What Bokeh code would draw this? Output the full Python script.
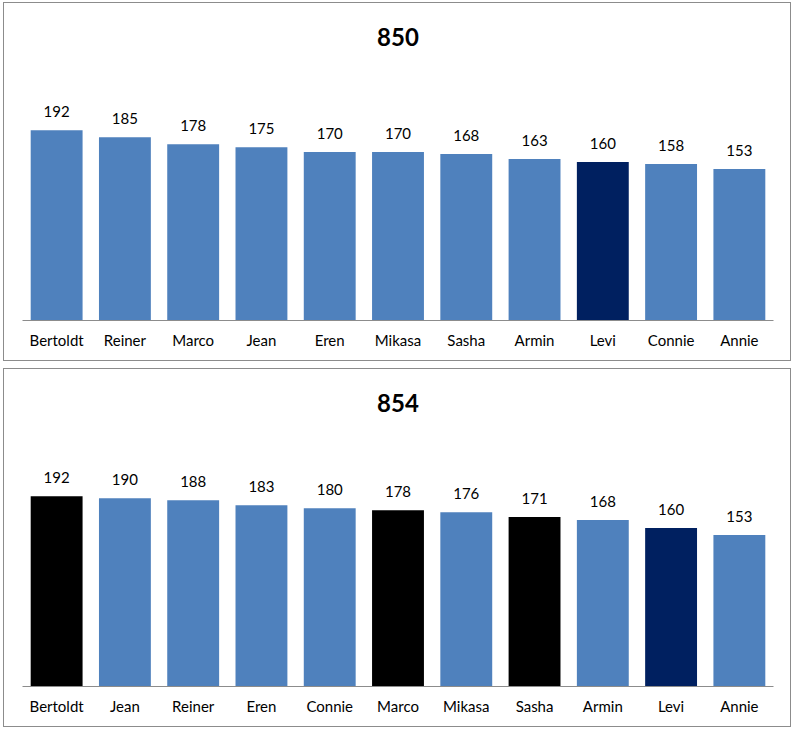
from bokeh.plotting import figure
from bokeh.models import ColumnDataSource
from bokeh.layouts import column
from bokeh.embed import file_html
from bokeh.resources import INLINE
from bokeh.core.properties import value

BLUE = "#4F81BD"
NAVY = "#002060"
BLACK = "#000000"

title_top = "850"
names_top = ["Bertoldt", "Reiner", "Marco", "Jean", "Eren", "Mikasa", "Sasha", "Armin", "Levi", "Connie", "Annie"]
heights_top = [192, 185, 178, 175, 170, 170, 168, 163, 160, 158, 153]
colors_top = [BLUE, BLUE, BLUE, BLUE, BLUE, BLUE, BLUE, BLUE, NAVY, BLUE, BLUE]

title_bottom = "854"
names_bottom = ["Bertoldt", "Jean", "Reiner", "Eren", "Connie", "Marco", "Mikasa", "Sasha", "Armin", "Levi", "Annie"]
heights_bottom = [192, 190, 188, 183, 180, 178, 176, 171, 168, 160, 153]
colors_bottom = [BLACK, BLUE, BLUE, BLUE, BLUE, BLACK, BLUE, BLACK, BLUE, NAVY, BLUE]

FONT = "Lato"


def make(title, names, vals, cols):
    src = ColumnDataSource(dict(name=names, val=vals, col=cols, lbl=[str(v) for v in vals]))
    p = figure(x_range=names, y_range=(0, 263.5), width=788, height=359,
               output_backend="svg", toolbar_location=None,
               min_border_left=18, min_border_right=19, min_border_bottom=42, min_border_top=56,
               styles={"border": "1px solid #8c8c8c", "box-sizing": "border-box"})
    p.vbar(x="name", top="val", width=0.76, fill_color="col", line_color=None, source=src)
    p.text(x="name", y="val", text="lbl", source=src, text_align="center", text_baseline="bottom",
           y_offset=-13, text_font=value(FONT), text_font_size="15px", text_color="#000000")
    p.title.text = title
    p.title.align = "center"
    p.title.text_font = FONT
    p.title.text_font_size = "24px"
    p.title.text_font_style = "bold"
    p.title.text_color = "#000000"
    p.title.standoff = 28
    p.yaxis.visible = False
    p.xgrid.grid_line_color = None
    p.ygrid.grid_line_color = None
    p.outline_line_color = None
    p.xaxis.axis_line_color = "#8c8c8c"
    p.xaxis.major_tick_line_color = None
    p.xaxis.minor_tick_line_color = None
    p.xaxis.major_label_text_font = FONT
    p.xaxis.major_label_text_font_size = "15px"
    p.xaxis.major_label_text_color = "#000000"
    p.xaxis.major_label_standoff = 4
    p.background_fill_color = "white"
    p.border_fill_color = "white"
    return p


p1 = make(title_top, names_top, heights_top, colors_top)
p2 = make(title_bottom, names_bottom, heights_bottom, colors_bottom)
p = column(p1, p2, spacing=7, styles={"margin-left": "3px", "margin-top": "2px"})

open("out.html", "w").write(file_html(p, INLINE))
